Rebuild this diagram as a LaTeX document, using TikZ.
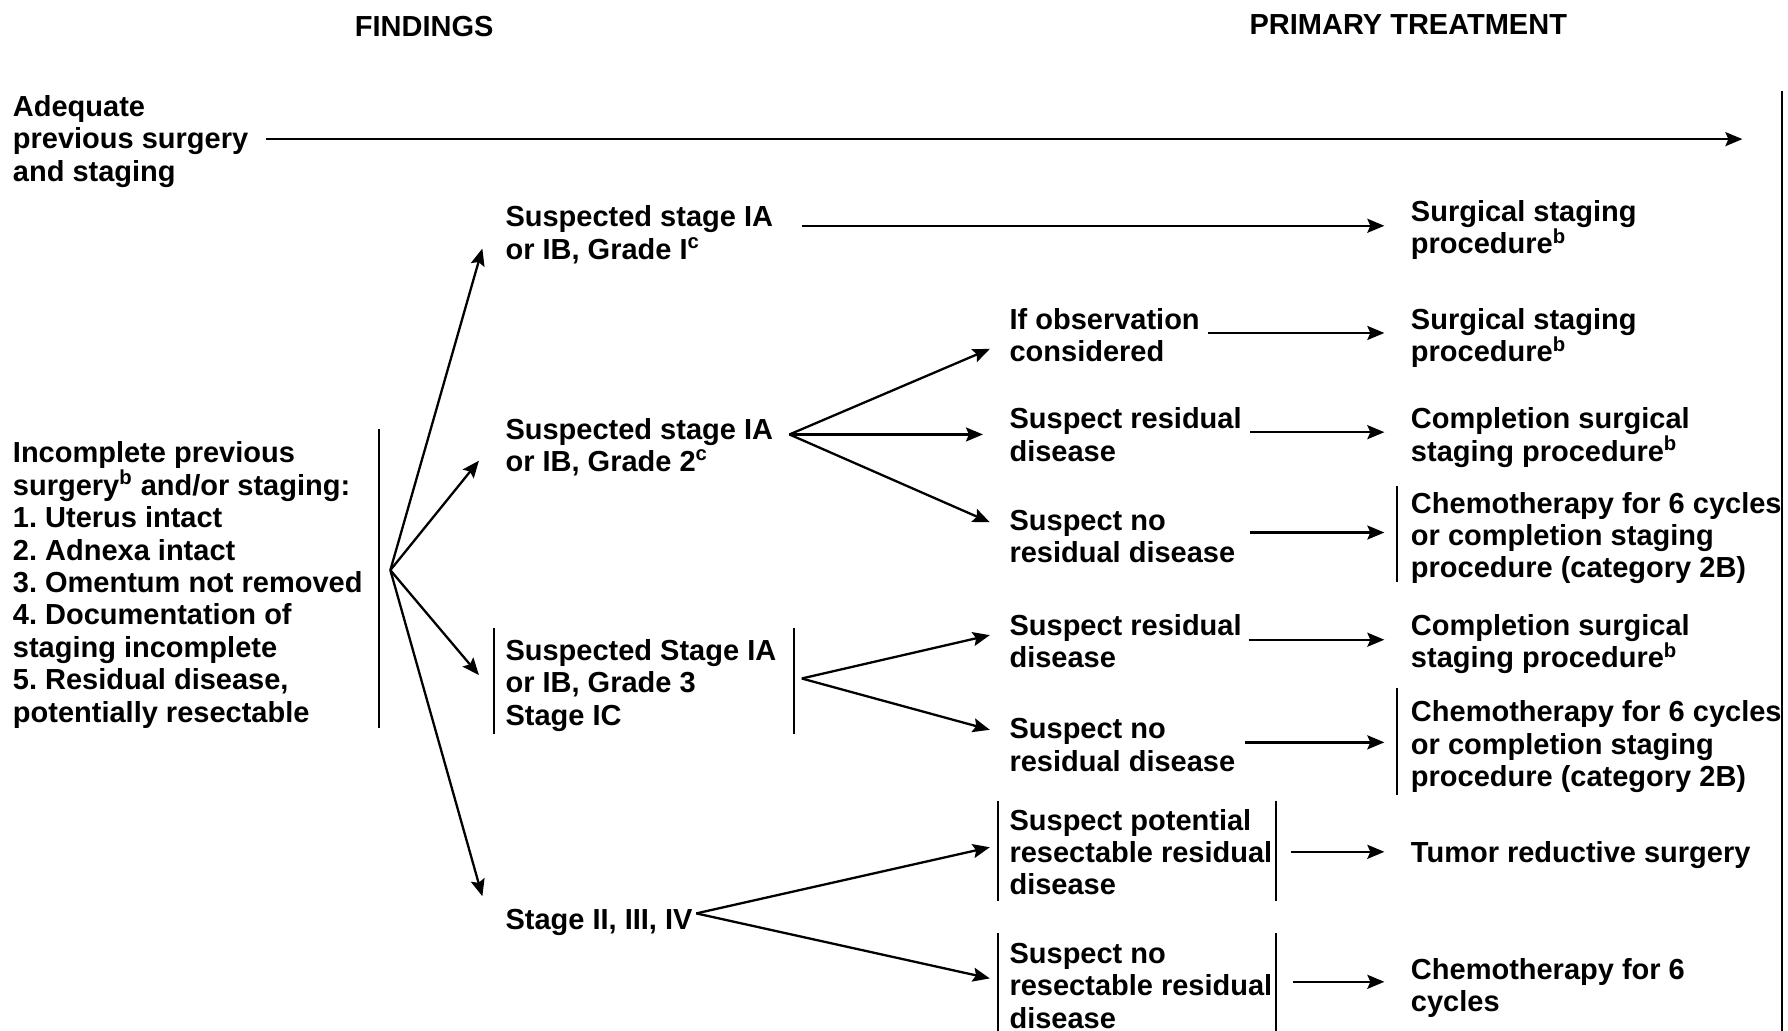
\documentclass[tikz,border=0pt]{standalone}
\usepackage{fontspec}
\setmainfont{Liberation Sans}
\usetikzlibrary{arrows.meta,calc}
\frenchspacing
\newcommand\mlines[1]{\begin{tabular}[t]{@{}l@{}}#1\end{tabular}}
\newcommand\sups[1]{\smash{\textsuperscript{#1}}}
\tikzset{
  txt/.style={anchor=base west, inner sep=0pt, font=\fontsize{14.5}{16.2}\selectfont\bfseries},
  hdr/.style={anchor=base, inner sep=0pt, font=\fontsize{14.5}{16.2}\selectfont\bfseries},
  arr/.style={line width=1.15pt, -{Stealth[length=8.5pt,width=7pt,inset=1.5pt]}},
  bar/.style={line width=0.9pt},
}
\begin{document}
\begin{tikzpicture}[x=0.5702pt,y=-0.5702pt]
\useasboundingbox (0,0) rectangle (1568,904);
% headers
\node[hdr] (find) at (372,32) {FINDINGS};
\node[hdr] (prim) at (1235,30) {PRIMARY TREATMENT};
% left column
\node[txt] (adeq) at (11,102) {\mlines{Adequate\\previous surgery\\and staging}};
\node[txt] (inc) at (11,406) {\mlines{Incomplete previous\\surgery\sups{b} and/or staging:\\1. Uterus intact\\2. Adnexa intact\\3. Omentum not removed\\4. Documentation of\\staging incomplete\\5. Residual disease,\\potentially resectable}};
% second column
\node[txt] (s1) at (443,199) {\mlines{Suspected stage IA\\or IB, Grade I\sups{c}}};
\node[txt] (s2) at (443,385) {\mlines{Suspected stage IA\\or IB, Grade 2\sups{c}}};
\node[txt] (s3) at (443,579) {\mlines{Suspected Stage IA\\or IB, Grade 3\\Stage IC}};
\node[txt] (s4) at (443,815) {Stage II, III, IV};
% third column
\node[txt] (obs) at (885,289) {\mlines{If observation\\considered}};
\node[txt] (res1) at (885,376) {\mlines{Suspect residual\\disease}};
\node[txt] (nores1) at (885,465) {\mlines{Suspect no\\residual disease}};
\node[txt] (res2) at (885,557) {\mlines{Suspect residual\\disease}};
\node[txt] (nores2) at (885,648) {\mlines{Suspect no\\residual disease}};
\node[txt] (pres) at (885,728) {\mlines{Suspect potential\\resectable residual\\disease}};
\node[txt] (npres) at (885,845) {\mlines{Suspect no\\resectable residual\\disease}};
% treatments
\node[txt] (t1) at (1237,194) {\mlines{Surgical staging\\procedure\sups{b}}};
\node[txt] (t2) at (1237,289) {\mlines{Surgical staging\\procedure\sups{b}}};
\node[txt] (t3) at (1237,376) {\mlines{Completion surgical\\staging procedure\sups{b}}};
\node[txt] (t4) at (1237,450) {\mlines{Chemotherapy for 6 cycles\\or completion staging\\procedure (category 2B)}};
\node[txt] (t5) at (1237,557) {\mlines{Completion surgical\\staging procedure\sups{b}}};
\node[txt] (t6) at (1237,633) {\mlines{Chemotherapy for 6 cycles\\or completion staging\\procedure (category 2B)}};
\node[txt] (t7) at (1237,756) {Tumor reductive surgery};
\node[txt] (t8) at (1237,859) {\mlines{Chemotherapy for 6\\cycles}};
% right border line
\draw[bar] (1563,80) -- (1563,904);
% bars
\draw[bar] ($(inc.base east)+(14,-30)$) -- ++(0,262);
\draw[bar] ($(s3.base west)+(-10,-28)$) -- ++(0,93);
\draw[bar] ($(s3.base east)+(15,-28)$) -- ++(0,93);
\draw[bar] ($(t4.base west)+(-12,-24)$) -- ++(0,84);
\draw[bar] ($(t6.base west)+(-12,-30)$) -- ++(0,94);
\draw[bar] ($(pres.base west)+(-10,-26)$) -- ++(0,88);
\draw[bar] ($(pres.base east)+(3,-26)$) -- ++(0,88);
\draw[bar] ($(npres.base west)+(-10,-27)$) -- ++(0,86);
\draw[bar] ($(npres.base east)+(3,-27)$) -- ++(0,86);
% fork points
\coordinate (adeqend) at (1528,122);
\coordinate (f0) at ($(inc.base east)+(24,94)$);
\coordinate (f2) at ($(s2.base east)+(14,-4)$);
\coordinate (f3) at ($(s3.base east)+(22,16)$);
\coordinate (f4) at ($(s4.base east)+(3,-14)$);
% arrows
\draw[arr] ($(adeq.base east)+(15,20)$) -- (adeqend);
\draw[arr] (f0) -- ($(s1.base west)+(-20,19)$);
\draw[arr] (f0) -- ($(s2.base west)+(-23,19)$);
\draw[arr] (f0) -- ($(s3.base west)+(-23,13)$);
\draw[arr] (f0) -- ($(s4.base west)+(-20,-29)$);
\draw[arr] ($(s1.base east)+(25,-1)$) -- ($(t1.base west)+(-23,4)$);
\draw[arr] (f2) -- ($(obs.base west)+(-17,17)$);
\draw[arr] (f2) -- ($(res1.base west)+(-23,5)$);
\draw[arr] (f2) -- ($(nores1.base west)+(-17,-7)$);
\draw[arr] ($(obs.base east)+(7,3)$) -- ($(t2.base west)+(-23,3)$);
\draw[arr] ($(res1.base east)+(7,3)$) -- ($(t3.base west)+(-23,3)$);
\draw[arr] ($(nores1.base east)+(13,2)$) -- ($(t4.base west)+(-23,17)$);
\draw[arr] (f3) -- ($(res2.base west)+(-17,0)$);
\draw[arr] (f3) -- ($(nores2.base west)+(-17,-8)$);
\draw[arr] ($(res2.base east)+(6,4)$) -- ($(t5.base west)+(-23,4)$);
\draw[arr] ($(nores2.base east)+(8,3)$) -- ($(t6.base west)+(-23,18)$);
\draw[arr] (f4) -- ($(pres.base west)+(-17,15)$);
\draw[arr] (f4) -- ($(npres.base west)+(-17,13)$);
\draw[arr] ($(pres.base east)+(16,19)$) -- ($(t7.base west)+(-23,-9)$);
\draw[arr] ($(npres.base east)+(18,16)$) -- ($(t8.base west)+(-23,2)$);
\end{tikzpicture}
\end{document}
